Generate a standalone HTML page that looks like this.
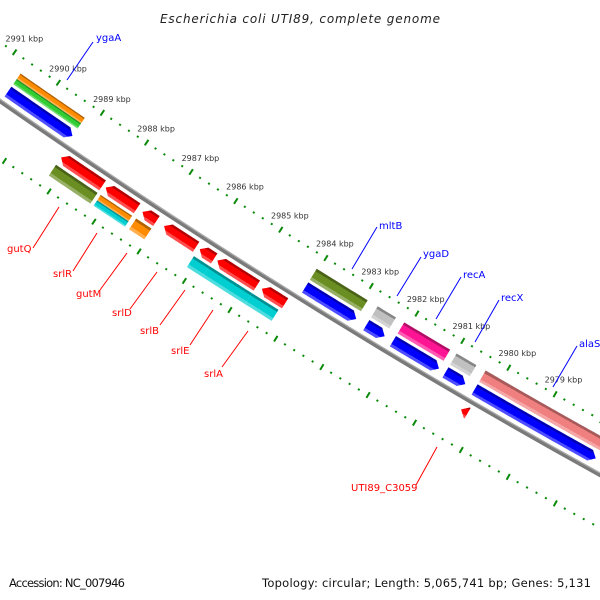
<!DOCTYPE html>
<html><head><meta charset="utf-8"><style>
html,body{margin:0;padding:0;background:#fff;width:600px;height:600px;overflow:hidden;}
svg{display:block;font-family:"DejaVu Sans","Liberation Sans",sans-serif;}
</style></head><body>
<svg id="chart" width="600" height="600" viewBox="0 0 600 600" xmlns="http://www.w3.org/2000/svg" overflow="hidden">
<rect width="600" height="600" fill="#fff"/>
<defs id="defs"></defs>
<g id="rings"></g>
<g id="backbone"></g>
<g id="features"></g>
<g id="ticklabels"></g>
<g font-size="10" fill="#0000ff" stroke-width="1">
<line x1="93" y1="42" x2="67" y2="80" stroke="#0000ff"/>
<text x="96" y="41">ygaA</text>
<line x1="377" y1="227" x2="352" y2="269" stroke="#0000ff"/>
<text x="379" y="229">mltB</text>
<line x1="421" y1="257" x2="397" y2="296" stroke="#0000ff"/>
<text x="423" y="257">ygaD</text>
<line x1="461" y1="277" x2="436" y2="319" stroke="#0000ff"/>
<text x="463" y="278">recA</text>
<line x1="499" y1="300" x2="475" y2="342" stroke="#0000ff"/>
<text x="501" y="301">recX</text>
<line x1="577" y1="346" x2="553" y2="387" stroke="#0000ff"/>
<text x="579" y="347">alaS</text>
</g>
<g font-size="10" fill="#ff0000">
<line x1="33" y1="248" x2="59" y2="207" stroke="#ff0000"/>
<text x="7" y="252">gutQ</text>
<line x1="73" y1="271" x2="97" y2="233" stroke="#ff0000"/>
<text x="53" y="277">srlR</text>
<line x1="100" y1="290" x2="127" y2="253" stroke="#ff0000"/>
<text x="76" y="297">gutM</text>
<line x1="130" y1="309" x2="157" y2="272" stroke="#ff0000"/>
<text x="112" y="316">srlD</text>
<line x1="160" y1="325" x2="185" y2="290" stroke="#ff0000"/>
<text x="140" y="334">srlB</text>
<line x1="190" y1="345" x2="213" y2="310" stroke="#ff0000"/>
<text x="171" y="354">srlE</text>
<line x1="222" y1="367" x2="248" y2="331" stroke="#ff0000"/>
<text x="204" y="377">srlA</text>
<line x1="416" y1="485" x2="437" y2="447" stroke="#ff0000"/>
<text x="351" y="491">UTI89_C3059</text>
</g>
<text x="300" y="23" text-anchor="middle" font-size="12" font-style="italic" fill="#222" textLength="280">Escherichia coli UTI89, complete genome</text>
<text x="9" y="587" font-size="11.5" fill="#111" textLength="116">Accession: NC_007946</text>
<text x="591" y="587" text-anchor="end" font-size="11.5" fill="#111" textLength="329">Topology: circular; Length: 5,065,741 bp; Genes: 5,131</text>
</svg>
<script>
// ---- data ----
const featStart = [2990.68, 2984.04, 2982.70, 2982.12, 2980.98, 2980.35,
                   2990.68, 2990.68, 2984.04, 2982.70, 2982.12, 2980.98, 2980.35,
                   2989.17, 2988.17, 2987.35, 2986.87, 2986.08, 2985.69, 2984.71, 2980.38,
                   2989.17, 2988.17, 2988.17, 2987.38, 2986.10, 2985.76, 2984.82];
const featEnd   = [2989.22, 2982.92, 2982.30, 2981.12, 2980.55, 2977.75,
                   2989.22, 2989.22, 2982.92, 2982.30, 2981.12, 2980.55, 2977.20,
                   2988.24, 2987.47, 2987.04, 2986.16, 2985.76, 2984.82, 2984.20, 2980.24,
                   2988.24, 2987.47, 2987.47, 2987.04, 2985.76, 2984.82, 2984.24];
const featSlot  = ["f1","f1","f1","f1","f1","f1",
                   "f2a","f2b","f2","f2","f2","f2","f2",
                   "r1","r1","r1","r1","r1","r1","r1","r1",
                   "r2","r2a","r2b","r2","r2","r2","r2"];
const featColor = ["#0000ff","#0000ff","#0000ff","#0000ff","#0000ff","#0000ff",
                   "#32cd32","#ff8c00","#6b8e23","#c0c0c0","#ff1493","#c0c0c0","#f08080",
                   "#ff0000","#ff0000","#ff0000","#ff0000","#ff0000","#ff0000","#ff0000","#ff0000",
                   "#6b8e23","#ff8c00","#00ced1","#ff8c00","#00ced1","#00ced1","#00ced1"];
const featName  = ["ygaA-cds","mltB-cds","ygaD-cds","recA-cds","recX-cds","alaS-cds",
                   "ygaA-cog-inner","ygaA-cog-outer","mltB-cog","ygaD-cog","recA-cog","recX-cog","alaS-cog",
                   "gutQ-cds","srlR-cds","gutM-cds","srlD-cds","srlB-cds","srlE-cds","srlA-cds","UTI89_C3059-cds",
                   "gutQ-cog","srlR-cog-inner","srlR-cog-outer","gutM-cog","srlB-cog","srlE-cog","srlA-cog"];
const majorTicks = [2991,2990,2989,2988,2987,2986,2985,2984,2983,2982,2981,2980,2979];
const tickLabels = ["2991 kbp","2990 kbp","2989 kbp","2988 kbp","2987 kbp","2986 kbp","2985 kbp","2984 kbp","2983 kbp","2982 kbp","2981 kbp","2980 kbp","2979 kbp"];

// ---- geometry ----
const CX = 3857, CY = -5423, R0 = 6737;
const A0 = 125.06, DEG_PER_KBP = 0.4567, REF = 2991;
function pt(k, off){
  const a = (A0 - (REF - k) * DEG_PER_KBP) * Math.PI / 180;
  const r = R0 - off;
  return [CX + r * Math.cos(a), CY + r * Math.sin(a)];
}
const slotOff = {f1:[6,18], f2:[21,34], f2a:[21,27.5], f2b:[27.5,34],
                 r1:[-18,-6], r2:[-34,-21], r2a:[-27.5,-21], r2b:[-34,-27.5]};
const NS = "http://www.w3.org/2000/svg";
function shade(hex, f){
  const n = parseInt(hex.slice(1),16);
  let c=[(n>>16)&255,(n>>8)&255,n&255];
  c = c.map(v => f>0 ? Math.round(v+(255-v)*f) : Math.round(v*(1+f)));
  return "rgb("+c.join(",")+")";
}
function bandPath(k1,k2,o1,o2,tip){
  const H = 0.12; const pts = [];
  const a = tip === -1 ? k1 - H : k1, b = tip === 1 ? k2 + H : k2;
  const n = Math.max(2, Math.ceil((a-b)/0.05));
  for(let i=0;i<=n;i++){ pts.push(pt(a-(a-b)*i/n, o2)); }
  if(tip===1) pts.push(pt(k2,(o1+o2)/2));
  for(let i=n;i>=0;i--){ pts.push(pt(a-(a-b)*i/n, o1)); }
  if(tip===-1) pts.push(pt(k1,(o1+o2)/2));
  return "M"+pts.map(p=>p[0].toFixed(2)+","+p[1].toFixed(2)).join("L")+"Z";
}

const defs = document.getElementById("defs");
const fg = document.getElementById("features");
for(let i=0;i<featStart.length;i++){
  const [o1,o2] = slotOff[featSlot[i]];
  const tip = featSlot[i]==="f1" ? 1 : (featSlot[i]==="r1" ? -1 : 0);
  const km = (featStart[i]+featEnd[i])/2;
  const p1 = pt(km,o1), p2 = pt(km,o2);
  const g = document.createElementNS(NS,"linearGradient");
  g.setAttribute("id","gr"+i);
  g.setAttribute("gradientUnits","userSpaceOnUse");
  g.setAttribute("x1",p1[0]); g.setAttribute("y1",p1[1]);
  g.setAttribute("x2",p2[0]); g.setAttribute("y2",p2[1]);
  const col = featColor[i];
  [[0,shade(col,0.3)],[0.25,shade(col,0.3)],[0.25,col],[0.8,col],[0.8,shade(col,-0.3)],[1,shade(col,-0.3)]].forEach(s=>{
    const st = document.createElementNS(NS,"stop");
    st.setAttribute("offset",s[0]); st.setAttribute("stop-color",s[1]);
    g.appendChild(st);
  });
  defs.appendChild(g);
  const p = document.createElementNS(NS,"path");
  p.setAttribute("d", bandPath(featStart[i],featEnd[i],o1,o2,tip));
  p.setAttribute("fill","url(#gr"+i+")");
  
  
  fg.appendChild(p);
}

// backbone
const bb = document.getElementById("backbone");
[[R0+0.8,3.4,"#7a7a7a"],[R0-1.4,1.2,"#a9a9a9"]].forEach((c,j)=>{
  const e = document.createElementNS(NS,"circle");
  e.setAttribute("cx",CX); e.setAttribute("cy",CY); e.setAttribute("r",c[0]);
  e.setAttribute("fill","none"); e.setAttribute("stroke",c[2]); e.setAttribute("stroke-width",c[1]);
  
  
  bb.appendChild(e);
});

// tick rings
const rings = document.getElementById("rings");
const ringOff = [48, -47];
for(const ro of ringOff){
  for(let t=29920; t>=29760; t-=2){
    const k = t/10;
    const major = (t % 10 === 0);
    const len = major ? 3.3 : 1;
    const q1 = pt(k, ro+len), q2 = pt(k, ro-len);
    const l = document.createElementNS(NS,"line");
    l.setAttribute("x1",q1[0]); l.setAttribute("y1",q1[1]);
    l.setAttribute("x2",q2[0]); l.setAttribute("y2",q2[1]);
    l.setAttribute("stroke","#0a8a0a"); l.setAttribute("stroke-width", 2);
    
    
    rings.appendChild(l);
  }
}
const tl = document.getElementById("ticklabels");
majorTicks.forEach((k,i)=>{
  const q = pt(k, 48+17);
  const t = document.createElementNS(NS,"text");
  t.setAttribute("x",q[0]); t.setAttribute("y",q[1]+3);
  t.setAttribute("text-anchor","middle"); t.setAttribute("font-size","8");
  t.setAttribute("fill","#333");
  t.textContent = tickLabels[i];
  
  
  tl.appendChild(t);
});
</script>
</body></html>
